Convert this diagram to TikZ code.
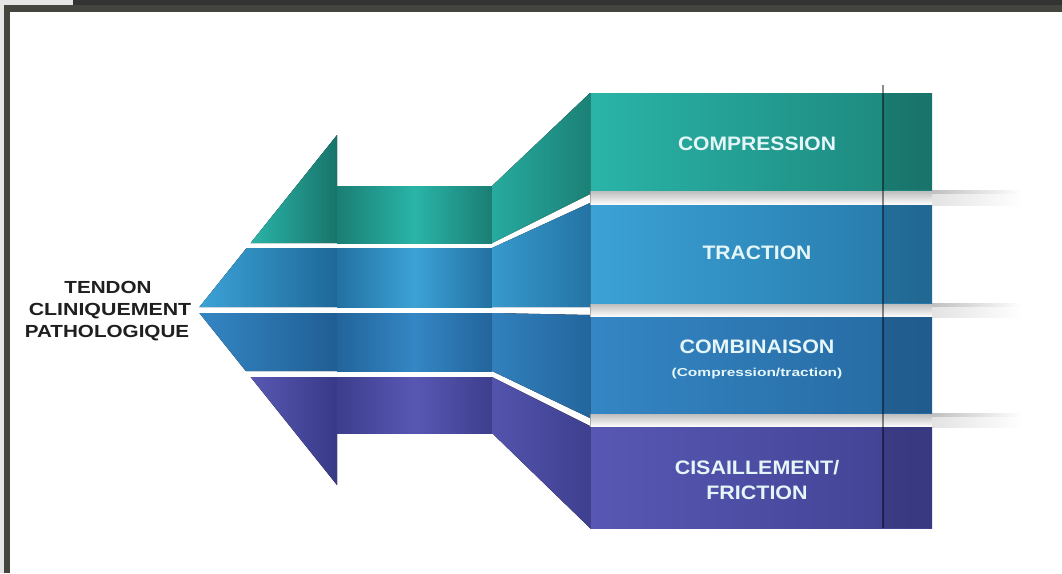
\documentclass[tikz,border=0pt]{standalone}
\usepackage{fontspec}
\setmainfont{Liberation Sans}
\usepackage{graphicx}
\definecolor{tealL}{RGB}{42,180,168}
\definecolor{tealD}{RGB}{24,116,106}
\definecolor{blueL}{RGB}{60,162,214}
\definecolor{blueD}{RGB}{30,104,152}
\definecolor{midL}{RGB}{52,134,196}
\definecolor{midD}{RGB}{32,94,148}
\definecolor{purL}{RGB}{88,88,180}
\definecolor{purD}{RGB}{56,57,134}
\definecolor{frameD}{RGB}{69,69,63}
\definecolor{frameT}{RGB}{51,51,51}
\definecolor{frameL}{RGB}{230,230,230}
\definecolor{lbltxt}{RGB}{228,246,248}
\newcommand\sxt[2]{\scalebox{#1}[1]{#2}}
\begin{document}
\begin{tikzpicture}[x=1pt,y=-1pt,
  lbl/.style={text=lbltxt,font=\bfseries\fontsize{19.5}{22}\selectfont,anchor=base,inner sep=0pt},
  sublbl/.style={text=lbltxt,font=\bfseries\fontsize{11.5}{13}\selectfont,anchor=base,inner sep=0pt},
  tlbl/.style={text=black!88,font=\bfseries\fontsize{17.5}{20}\selectfont,anchor=base,inner sep=0pt},
  headT/.style={left color=#1L,right color=#1D},
  shaftT/.style={left color=#1D!85!#1L,right color=#1D!85!#1L,middle color=#1L},
  flareT/.style={left color=#1L!85!#1D,right color=#1D!80!#1L},
  blockT/.style={left color=#1L,right color=#1D!75!#1L},
  gapT/.style={top color=gray!55,bottom color=white},
  shadowT/.style={left color=gray!50,right color=white}]
\useasboundingbox (0,0) rectangle (1062,573);
% frame
\fill[white] (0,0) rectangle (1062,573);
\fill[frameL] (0,0) rectangle (4,573);
\fill[frameL] (0,0) rectangle (73,5);
\fill[frameT] (73,0) rectangle (1062,5);
\fill[frameD] (4,5) rectangle (1062,12);
\fill[frameD] (4,5) rectangle (10,573);
% head
\fill[headT=teal] (250.6,243) -- (337,135) -- (337,243) -- cycle;
\fill[headT=blue] (246.6,248) -- (337,248) -- (337,307) -- (199.4,307) -- cycle;
\fill[headT=mid] (199.4,313) -- (337,313) -- (337,371) -- (245.8,371) -- cycle;
\fill[headT=pur] (250.6,377) -- (337,377) -- (337,485) -- cycle;
% shaft
\fill[shaftT=teal] (337,186) rectangle (492,243);
\fill[shaftT=blue] (337,248) rectangle (492,307);
\fill[shaftT=mid] (337,313) rectangle (492,371);
\fill[shaftT=pur] (337,377) rectangle (492,433);
% flare
\fill[flareT=teal] (492,186) -- (590,93) -- (590,194) -- (492,243) -- cycle;
\fill[flareT=blue] (492,248) -- (590,203) -- (590,307) -- (492,307) -- cycle;
\fill[flareT=mid] (492,313) -- (590,315) -- (590,418) -- (492,371) -- cycle;
\fill[flareT=pur] (492,377) -- (590,426) -- (590,528) -- (492,433) -- cycle;
% gaps between blocks and shadows
\fill[gapT] (590,190) rectangle (932,205);
\fill[gapT] (590,303) rectangle (932,317);
\fill[gapT] (590,413) rectangle (932,427);
\fill[shadowT] (932,190) rectangle (1022,194);
\fill[left color=gray!22,right color=white] (932,194) rectangle (1022,205);
\fill[shadowT] (932,303) rectangle (1022,307);
\fill[left color=gray!22,right color=white] (932,307) rectangle (1022,317);
\fill[shadowT] (932,413) rectangle (1022,417);
\fill[left color=gray!22,right color=white] (932,417) rectangle (1022,427);
% blocks
\fill[blockT=teal] (590,93) rectangle (932,190);
\fill[blockT=blue] (590,205) rectangle (932,303);
\fill[blockT=mid] (590,317) rectangle (932,413);
\fill[blockT=pur] (590,427) rectangle (932,528);
\fill[black,opacity=0.12] (883,93) rectangle (932,190);
\fill[black,opacity=0.12] (883,205) rectangle (932,303);
\fill[black,opacity=0.12] (883,317) rectangle (932,413);
\fill[black,opacity=0.12] (883,427) rectangle (932,528);
\draw[black,opacity=0.25,line width=0.8] (590,93) -- (590,528);
\draw[black,opacity=0.45,line width=1.4] (883,85) -- (883,528);
% labels
\node[tlbl] (tendon) at (108,293.5) {\sxt{1.18}{TENDON}};
\node[tlbl] (clin) at (110,315.5) {\sxt{1.22}{CLINIQUEMENT}};
\node[tlbl] (patho) at (107,337) {\sxt{1.18}{PATHOLOGIQUE}};
\node[lbl] (comp) at (757,150.5) {\sxt{1.08}{COMPRESSION}};
\node[lbl] (trac) at (757,259) {\sxt{1.08}{TRACTION}};
\node[lbl] (comb) at (757,353) {\sxt{1.1}{COMBINAISON}};
\node[sublbl] (combsub) at (757,376) {\sxt{1.35}{(Compression/traction)}};
\node[lbl] (cis) at (757,474) {\sxt{1.1}{CISAILLEMENT/}};
\node[lbl] (fric) at (757,499) {\sxt{1.1}{FRICTION}};
\end{tikzpicture}
\end{document}
